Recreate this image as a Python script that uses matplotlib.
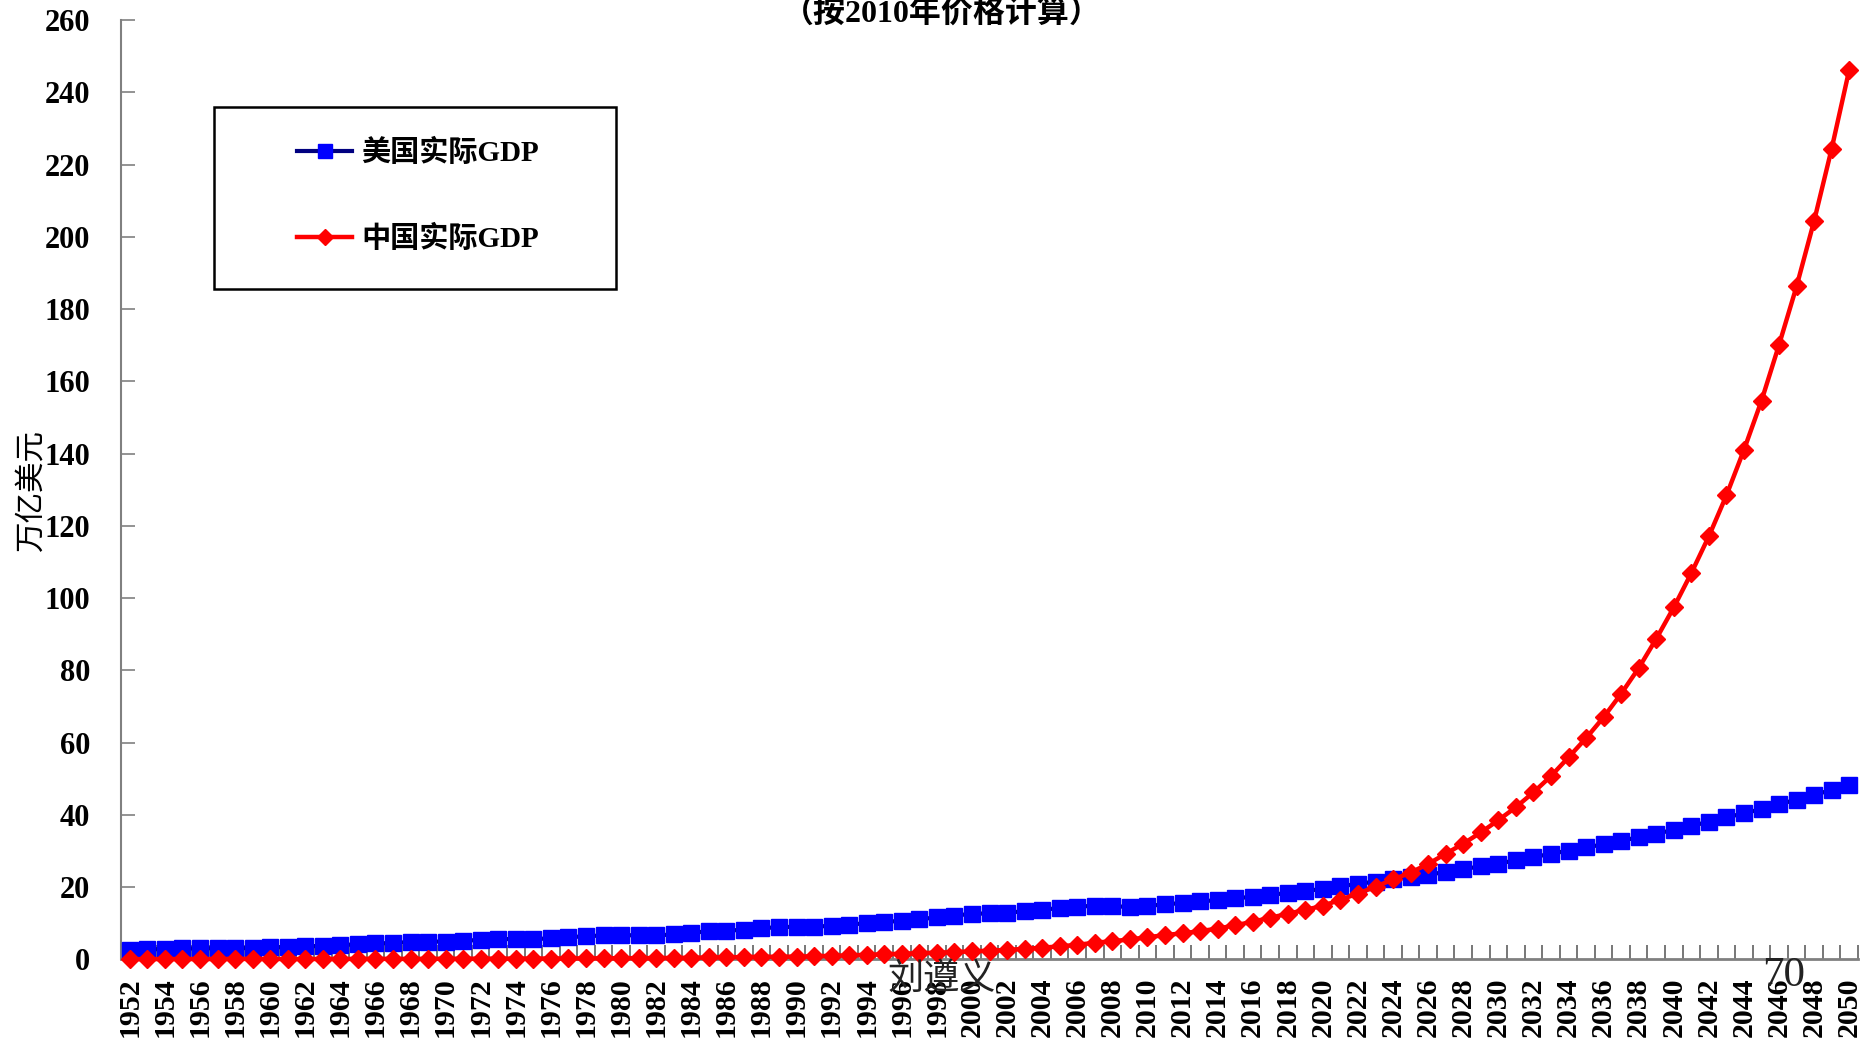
import matplotlib
matplotlib.use('Agg')
import matplotlib.pyplot as plt
from matplotlib.patches import Rectangle
import numpy as np

# 中美实际GDP（按2010年价格计算，万亿美元），1952-2050
plt.rcParams['font.family'] = ['Liberation Serif', 'Noto Sans CJK SC']

years = np.arange(1952, 2051)

us_gdp = [2.6, 2.8, 2.8, 3.0, 3.0, 3.1, 3.0, 3.2, 3.3, 3.4,
          3.6, 3.7, 3.9, 4.2, 4.4, 4.5, 4.8, 4.9, 4.9, 5.1,
          5.4, 5.6, 5.6, 5.6, 5.8, 6.1, 6.4, 6.6, 6.6, 6.7,
          6.6, 6.9, 7.4, 7.7, 7.9, 8.2, 8.6, 8.9, 9.0, 9.0,
          9.3, 9.6, 10.0, 10.3, 10.7, 11.1, 11.6, 12.1, 12.6, 12.7,
          12.9, 13.3, 13.7, 14.2, 14.6, 14.8, 14.8, 14.4, 14.8, 15.2,
          15.6, 16.0, 16.4, 16.9, 17.3, 17.8, 18.4, 18.9, 19.5, 20.2,
          20.9, 21.5, 22.1, 22.8, 23.4, 24.2, 25.0, 25.7, 26.5, 27.4,
          28.3, 29.2, 30.1, 31.0, 31.8, 32.8, 33.8, 34.8, 35.8, 36.9,
          38.1, 39.3, 40.4, 41.6, 42.9, 44.2, 45.5, 46.9, 48.3]

cn_gdp = [0.05, 0.06, 0.06, 0.07, 0.07, 0.08, 0.10, 0.11, 0.11, 0.08,
          0.08, 0.09, 0.10, 0.12, 0.13, 0.12, 0.12, 0.14, 0.16, 0.17,
          0.18, 0.20, 0.20, 0.22, 0.22, 0.24, 0.26, 0.28, 0.30, 0.32,
          0.35, 0.38, 0.44,
          0.50, 0.55, 0.62, 0.69, 0.72, 0.75, 0.85, 0.97, 1.10, 1.25,
          1.40, 1.55, 1.70, 1.85, 2.0, 2.2, 2.4, 2.6, 2.9, 3.2,
          3.6, 4.0, 4.6, 5.0, 5.5, 6.1, 6.7, 7.2, 7.8, 8.5,
          9.4, 10.4, 11.5, 12.6, 13.7, 14.8, 16.5, 18.2, 20.1, 22.1,
          24.0, 26.4, 29.2, 32.0, 35.1, 38.5, 42.1, 46.2, 50.7, 55.9,
          61.2, 67.0, 73.5, 80.6, 88.7, 97.4, 106.9, 117.1, 128.4, 141.0,
          154.6, 170.1, 186.3, 204.4, 224.4, 246.2]

yticks = np.arange(0, 261, 20)

W, H = 1862, 1047


def set_axisopts(ax):
    n = len(years)
    ax.set_xlim(-0.5, n - 0.5)
    ax.set_ylim(0, 260)
    ax.set_yticks(yticks)
    ax.set_yticklabels([str(v) for v in yticks], fontsize=22, fontweight='bold')
    ax.tick_params(axis='y', direction='in', length=10, width=1.2,
                   color='#808080', pad=22)

    # 年份标签每两年一个，刻度线在类别之间
    idx = np.arange(0, n, 2)
    ax.set_xticks(idx)
    ax.set_xticklabels([str(years[i]) for i in idx], rotation=90,
                       fontsize=21.5, fontweight='bold', va='top', ha='center')
    ax.set_xticks(np.arange(-0.5, n, 1), minor=True)
    ax.tick_params(axis='x', which='major', length=0, pad=13)
    ax.tick_params(axis='x', which='minor', direction='in', length=10,
                   width=1.2, color='#606060')

    for s in ['top', 'right']:
        ax.spines[s].set_visible(False)
    ax.spines['left'].set_color('#808080')
    ax.spines['left'].set_linewidth(1.5)
    ax.spines['bottom'].set_color('#808080')
    ax.spines['bottom'].set_linewidth(2)

    ax.set_ylabel('万亿美元', fontsize=22)
    ax.yaxis.set_label_coords(-0.043, 0.5)


def main():
    fig = plt.figure(figsize=(W / 100, H / 100), dpi=100)
    ax = fig.add_axes([121 / W, 1 - 959.3 / H, 1737 / W, 939.3 / H])

    set_axisopts(ax)

    x = np.arange(len(years))
    ax.plot(x, us_gdp, color='#000080', linewidth=3, marker='s', markersize=11,
            markerfacecolor='#0000ff', markeredgecolor='#0000ff',
            label='美国实际GDP', clip_on=False, zorder=3)
    ax.plot(x, cn_gdp, color='#ff0000', linewidth=3.2, marker='D', markersize=9,
            markerfacecolor='#ff0000', markeredgecolor='#ff0000',
            label='中国实际GDP', clip_on=False, zorder=4)

    # 图例：外框单独画
    ax.add_patch(Rectangle((0.0535, 0.7136), 0.2314, 0.1938, transform=ax.transAxes,
                           fill=False, edgecolor='black', linewidth=1.8, zorder=5))
    ax.legend(loc='center left', bbox_to_anchor=(0.1013, 0.8126), frameon=False,
              prop={'size': 21, 'weight': 'bold'}, borderpad=0, borderaxespad=0,
              handlelength=1.9, handletextpad=0.3, labelspacing=2.0,
              markerscale=0.9)

    fig.text(0.506, 1 - 22 / H, '（按2010年价格计算）', fontsize=23,
             fontweight='bold', ha='center', va='baseline')
    fig.text(942 / W, 1 - 980 / H, '刘遵义', fontsize=26, ha='center',
             va='center', color='#222222')
    fig.text(1784 / W, 1 - 976 / H, '70', fontsize=31, ha='center',
             va='center', color='#222222')

    fig.savefig('out.png', dpi=100)


if __name__ == '__main__':
    main()
